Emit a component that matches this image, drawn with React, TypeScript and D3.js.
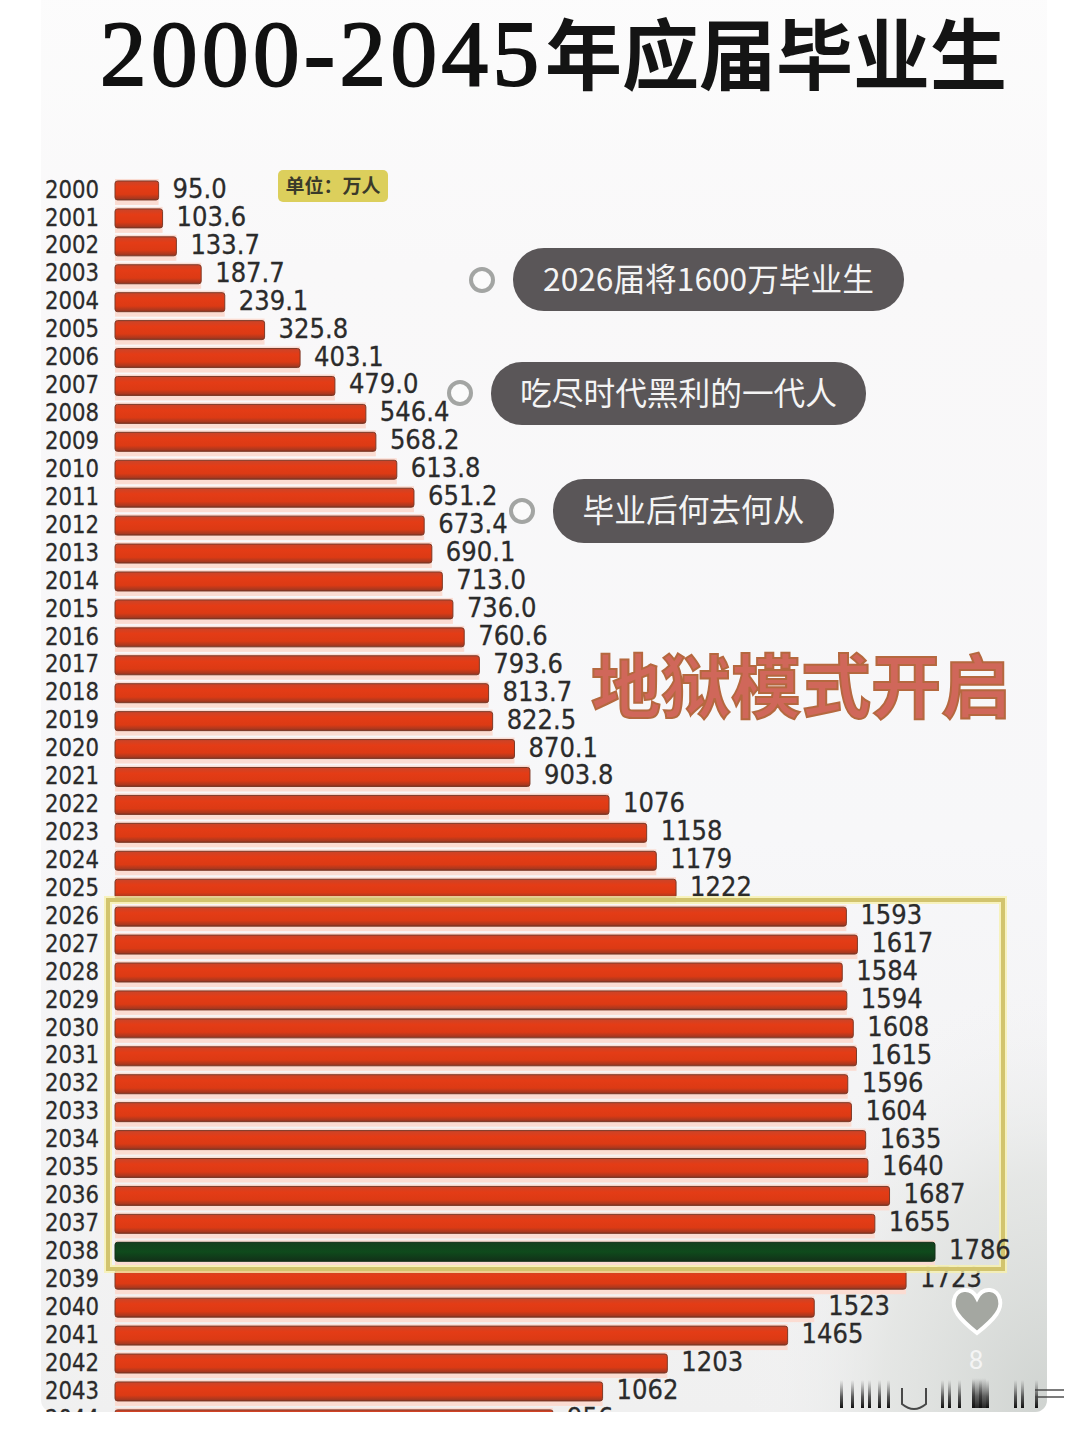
import * as React from "react";
import * as d3 from "d3";

const years = d3.range(2000, 2045).map(String);
const graduates = [
  95.0, 103.6, 133.7, 187.7, 239.1, 325.8, 403.1, 479.0, 546.4, 568.2, 613.8, 651.2, 673.4, 690.1, 713.0,
  736.0, 760.6, 793.6, 813.7, 822.5, 870.1, 903.8, 1076, 1158, 1179, 1222, 1593, 1617, 1584, 1594,
  1608, 1615, 1596, 1604, 1635, 1640, 1687, 1655, 1786, 1723, 1523, 1465, 1203, 1062, 954,
];
const valueLabels = [
  "95.0", "103.6", "133.7", "187.7", "239.1", "325.8", "403.1", "479.0", "546.4", "568.2", "613.8", "651.2",
  "673.4", "690.1", "713.0", "736.0", "760.6", "793.6", "813.7", "822.5", "870.1", "903.8", "1076", "1158",
  "1179", "1222", "1593", "1617", "1584", "1594", "1608", "1615", "1596", "1604", "1635", "1640", "1687",
  "1655", "1786", "1723", "1523", "1465", "1203", "1062", "956",
];
const highlightYear = "2038";
const callouts = ["2026届将1600万毕业生", "吃尽时代黑利的一代人", "毕业后何去何从"];

const CJK = '"Noto Sans CJK SC", sans-serif';
const NUM = '"DejaVu Sans", sans-serif';

const x = d3.scaleLinear().domain([0, 1786]).range([115, 935]);
const y = d3
  .scaleBand<string>()
  .domain(years)
  .range([176.5, 176.5 + 45 * 27.93])
  .paddingInner(0.32)
  .paddingOuter(0.16);

// squeezed numerals, the source has tall narrow digits
const Squeezed = ({ px, py, anchor, size, sx, children }: any) => (
  <text
    transform={`translate(${px},${py}) scale(${sx},1)`}
    textAnchor={anchor}
    dominantBaseline="central"
    fontFamily={NUM}
    fontSize={size}
    fill="#2b2b2b"
    stroke="#2b2b2b"
    strokeWidth={0.3}
  >
    {children}
  </text>
);

const Pill = ({ left, right, top, bottom, dotX, dotY, fontSize, label }: any) => (
  <g>
    <circle cx={dotX} cy={dotY} r={11} fill="#fbfbfb" stroke="#a3a5a3" strokeWidth={4} />
    <rect x={left} y={top} width={right - left} height={bottom - top} rx={31} fill="#5a5658" />
    <text
      x={(left + right) / 2}
      y={(top + bottom) / 2 - 3}
      textAnchor="middle"
      dominantBaseline="central"
      fontFamily={CJK}
      fontSize={fontSize}
      fill="#f4f4f4"
    >
      {label}
    </text>
  </g>
);

// smeared watermark strip in the bottom right corner
const stripBars = [840, 851, 861, 868, 878, 887, 941, 948, 958, 972, 979, 986, 1014, 1021, 1035];

export default function App() {
  const bh = y.bandwidth();
  const hotIndex = years.indexOf(highlightYear);
  return (
    <svg
      width={1088}
      height={1434}
      viewBox="0 0 1088 1434"
      style={{ position: "absolute", left: 0, top: 0, display: "block", background: "#fff" }}
    >
      <defs>
        <linearGradient id="bar" x1="0" x2="0" y1="0" y2="1">
          <stop offset="0" stopColor="#c9452a" />
          <stop offset="0.3" stopColor="#e43c16" />
          <stop offset="0.7" stopColor="#dc3a14" />
          <stop offset="0.92" stopColor="#a8381f" />
          <stop offset="1" stopColor="#7c2e1c" />
        </linearGradient>
        <linearGradient id="green" x1="0" x2="0" y1="0" y2="1">
          <stop offset="0" stopColor="#14401e" />
          <stop offset="0.5" stopColor="#0f4a1c" />
          <stop offset="1" stopColor="#123018" />
        </linearGradient>
        <radialGradient id="corner" cx="1" cy="1" r="0.3">
          <stop offset="0" stopColor="#cfd3d0" />
          <stop offset="0.55" stopColor="#e2e4e2" stopOpacity={0.8} />
          <stop offset="1" stopColor="#f4f4f6" stopOpacity={0} />
        </radialGradient>
        <linearGradient id="panel" x1="0" x2="0" y1="0" y2="1">
          <stop offset="0" stopColor="#fcfcfc" />
          <stop offset="0.2" stopColor="#f9f8f9" />
          <stop offset="0.6" stopColor="#f7f7f9" />
          <stop offset="1" stopColor="#f0f0f0" />
        </linearGradient>
        <linearGradient id="strip" x1="0" x2="0" y1="0" y2="1">
          <stop offset="0" stopColor="#555" stopOpacity={0} />
          <stop offset="0.6" stopColor="#333" stopOpacity={0.8} />
          <stop offset="1" stopColor="#111" />
        </linearGradient>
        <clipPath id="panelClip">
          <rect x={0} y={0} width={1088} height={1412} />
        </clipPath>
        <clipPath id="cutLabel">
          <rect x={0} y={0} width={1012} height={1412} />
        </clipPath>
      </defs>

      <rect x={41} y={-20} width={1006} height={1432} rx={12} fill="url(#panel)" />
      <rect x={41} y={-20} width={1006} height={1432} rx={12} fill="url(#corner)" />

      <text x={100} y={85} fontFamily='"Liberation Serif", serif' fontSize={93} letterSpacing={4.5} fill="#111" stroke="#111" strokeWidth={2}>
        2000-2045
      </text>
      <text x={545} y={84} fontFamily={CJK} fontSize={77} fontWeight={700} fill="#141414">
        年应届毕业生
      </text>

      <g clipPath="url(#panelClip)">
        {years.map((yr, i) => {
          const top = y(yr) as number;
          const mid = top + bh / 2;
          const hot = yr === highlightYear;
          return (
            <g key={yr}>
              <rect x={x(0)} y={top - 2} width={x(graduates[i]) - x(0)} height={bh + 7} fill="#fbdcd2" />
              <rect
                x={x(0)}
                y={top}
                width={x(graduates[i]) - x(0)}
                height={bh}
                rx={2.5}
                fill={hot ? "url(#green)" : "url(#bar)"}
                stroke={hot ? "#123018" : "#7d3a28"}
                strokeWidth={1}
              />
              <Squeezed px={99} py={mid - 2} anchor="end" size={25} sx={0.85}>
                {yr}
              </Squeezed>
              {!hot && (
                <Squeezed px={x(graduates[i]) + 14} py={mid - 2} anchor="start" size={27} sx={0.9}>
                  {valueLabels[i]}
                </Squeezed>
              )}
            </g>
          );
        })}
      </g>

      <rect x={108} y={900} width={895} height={369} fill="none" stroke="#f7f1ae" strokeWidth={8} opacity={0.8} />
      <rect x={108} y={900} width={895} height={369} fill="none" stroke="#d2c46e" strokeWidth={4} />

      {/* this one sits over the frame and gets cut just past it */}
      <g clipPath="url(#cutLabel)">
        <Squeezed
          px={x(graduates[hotIndex]) + 14}
          py={(y(highlightYear) as number) + bh / 2 - 2}
          anchor="start"
          size={27}
          sx={0.9}
        >
          {valueLabels[hotIndex]}
        </Squeezed>
      </g>

      <rect x={278} y={170} width={110} height={32} rx={5} fill="#dccf5c" />
      <text x={333} y={184} textAnchor="middle" dominantBaseline="central" fontFamily={CJK} fontSize={19} fontWeight={700} fill="#3a3a2a">
        单位：万人
      </text>

      <Pill left={513} right={904} top={248} bottom={311} dotX={482} dotY={280} fontSize={31.7} label={callouts[0]} />
      <Pill left={491} right={866} top={362} bottom={425} dotX={460} dotY={393} fontSize={31.7} label={callouts[1]} />
      <Pill left={553} right={834} top={479} bottom={543} dotX={522} dotY={511} fontSize={31.7} label={callouts[2]} />

      <text
        x={801}
        y={682}
        textAnchor="middle"
        dominantBaseline="central"
        fontFamily={CJK}
        fontSize={70}
        fontWeight={700}
        fill="#d0675a"
        stroke="#b5683f"
        strokeWidth={2}
      >
        地狱模式开启
      </text>

      <path
        d="M977,1333 C958,1318 952,1309 954,1300 C956,1288 971,1286 977,1298 C983,1286 998,1288 1000,1300 C1002,1309 996,1318 977,1333 Z"
        fill="#a4a7a1"
        stroke="#fff"
        strokeWidth={4}
      />
      <text x={976} y={1360} textAnchor="middle" dominantBaseline="central" fontFamily='"Roboto", sans-serif' fontSize={26} fill="#f4f4f4">
        8
      </text>

      {stripBars.map((b) => (
        <rect key={b} x={b} y={1380} width={3} height={28} fill="url(#strip)" />
      ))}
      <rect x={972} y={1378} width={14} height={30} fill="url(#strip)" opacity={0.9} />
      <path d="M902,1388 L902,1404 Q914,1414 926,1404 L926,1388" fill="none" stroke="#222" strokeWidth={2} opacity={0.8} />
      <path d="M1035,1390 H1064 M1035,1397 H1064" stroke="#444" strokeWidth={2} opacity={0.7} />
    </svg>
  );
}
